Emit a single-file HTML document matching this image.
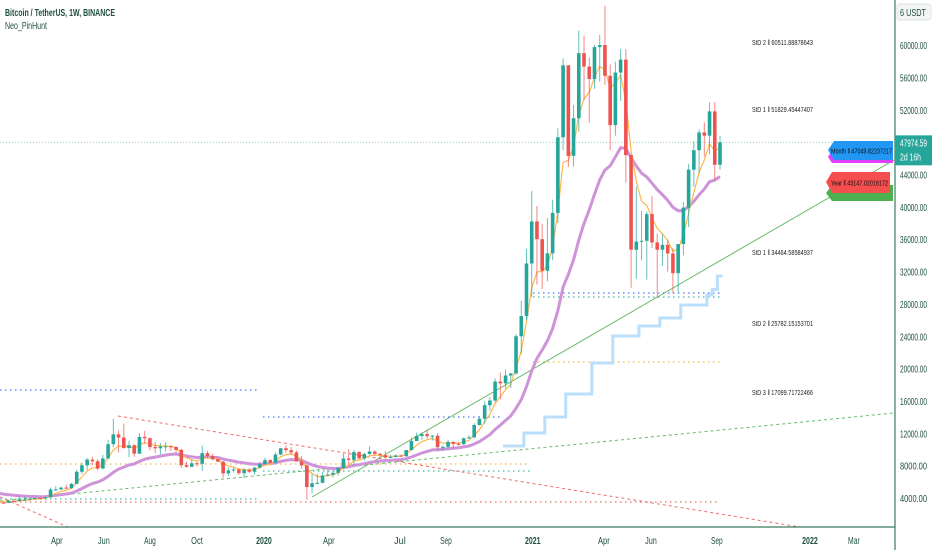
<!DOCTYPE html>
<html><head><meta charset="utf-8">
<style>
html,body{margin:0;padding:0;background:#fff;}
svg{display:block;font-family:"Liberation Sans",sans-serif;}
</style></head>
<body>
<svg id="chart" width="932" height="550" viewBox="0 0 932 550" xmlns="http://www.w3.org/2000/svg">
<rect width="932" height="550" fill="#ffffff"/>
<g id="levels"></g>
<g id="trend"></g>
<g id="steps"></g>
<g id="mas"></g>
<g id="candles"></g>
<g id="yaxis"></g>
<g id="xaxis"></g>
<g id="tags"></g>
<text x="5" y="16" font-size="10" font-weight="bold" fill="#1f4f3f" textLength="110" lengthAdjust="spacingAndGlyphs">Bitcoin / TetherUS, 1W, BINANCE</text>
<text x="5" y="29" font-size="10" fill="#1f4f3f" textLength="42" lengthAdjust="spacingAndGlyphs">Neo_PinHunt</text>
</svg>
<script>
const closes=[3550,3530,3440,3410,3660,3620,3800,3820,3910,4000,3990,4100,5050,5070,5290,5220,5750,7250,8050,8750,8550,7650,8900,10660,11870,11480,10180,10530,9490,11560,11390,10300,10150,10360,10400,10300,9950,8060,7860,8300,8230,9550,9200,8800,8500,7050,7420,7530,7070,7500,7250,7760,
8180,8690,8350,9380,10150,9920,9650,8530,8040,5360,5830,5880,6780,6900,7120,7700,8890,8720,9680,8900,9450,9750,9470,9300,9010,9070,9250,9160,9930,11050,11680,11900,11650,11700,10280,10330,10940,10700,10660,11380,11500,13030,13800,15480,16060,18400,18180,19150,19400,24000,26500,33000,
38200,36000,32100,34250,39250,48600,57500,46300,50950,59000,57350,55800,59750,60000,56200,50100,56600,58200,46400,34700,35700,35800,39100,35600,34700,35300,34240,31800,35400,39900,44600,47000,49200,48800,51800,45200,47974];
const highs=[3700,3650,3630,3560,3700,3720,4190,4200,3970,4050,4100,4150,5300,5470,5400,5650,5850,7500,8350,8950,9100,8800,9350,11200,13800,12350,13200,11100,10650,12000,12300,11500,10950,10800,10900,10500,10400,10100,8500,8800,8500,10500,9800,9500,8900,8600,7800,7800,7700,7650,7700,7850,8450,9000,8800,9600,10200,10500,10300,9900,9200,8100,6950,7000,7200,7500,7450,7800,9500,10050,9950,9800,9600,10400,9900,9600,9800,9350,9450,9400,9950,11450,12100,12100,12500,11800,12050,10500,11200,11000,10950,11500,11750,13250,14100,15950,16450,18800,19500,19900,19450,24300,28400,34800,41950,40100,37850,38600,40900,49700,58350,57500,52600,61800,61150,58450,60000,61250,64850,57600,57950,59500,59500,45800,42500,39500,39400,41300,36700,36600,35950,34900,35400,40600,45300,48150,49550,50450,52900,52950,48800];
const lows=[3450,3450,3400,3350,3380,3600,3600,3720,3690,3800,3900,3950,4050,4900,5000,5100,5150,5700,6950,7450,8050,7450,7550,8850,10300,9650,10100,9050,9100,9450,10700,9900,9550,9400,9750,9800,9620,7700,7750,7850,7900,7350,8900,8650,8450,6500,6750,7150,6880,6450,7100,6900,7650,8140,8250,8300,9300,9600,9370,8500,7640,3800,4600,5700,5850,6700,6550,6800,7600,8120,8100,8800,8650,9350,9250,9050,8850,8950,9050,9050,9150,9900,11050,11200,11350,11100,9900,9900,10200,10150,10500,10550,11300,11400,12950,13200,14800,15850,16200,17550,17600,19250,21800,26000,28850,30400,29850,30800,33400,38000,47000,44900,45000,49300,53200,50400,54600,55500,55100,47000,48800,53100,43000,30000,31100,33400,31000,34900,28800,32700,32000,29300,29400,34000,37500,42500,44100,46200,46500,43300,44600];
const prehistory=[6700,7300,6500,6400,6600,6500,6450,6400,6500,6300,6350,5600,4000,3800,4100,3500,3300,3900,4000,3700];
const firstOpen=3700;
const stepStart=99;
const stepValues=[10430,10430,10430,10430,12040,12040,12040,12040,14020,14020,14020,14020,16860,16860,16860,16860,16860,20700,20700,20700,20700,24030,24030,24030,24030,24030,25270,25270,25270,25270,26260,26260,26260,26260,27870,27870,27870,27870,27870,29100,29800,31450];
const yTicks=[60000,56000,52000,44000,40000,36000,32000,28000,24000,20000,16000,12000,8000,4000];
const xTickLabels=["Apr","Jun","Aug","Oct","2020","Apr","Jul","Sep","2021","Apr","Jun","Sep","2022","Mar"];
const xTickIdx=[13.2,22.2,31.0,40.0,52.8,65.2,78.8,87.6,104.2,117.8,126.8,139.4,157.2,165.6];
const stdLabels=["StD 2 \u2016 60511.88878643","StD 1 \u2016 51829.45447407","StD 1 \u2016 34464.58584937","StD 2 \u2016 25782.15153701","StD 3 \u2016 17099.71722466"];
const stdLabelY=[45,112,255,326,395];
const lastPrice=47974.59;

const NS="http://www.w3.org/2000/svg";
const X=i=>-12.2+i*5.23;
const Y=p=>530.4-p*0.008089;
function mk(tag,attrs,parent){const e=document.createElementNS(NS,tag);for(const k in attrs)e.setAttribute(k,attrs[k]);parent.appendChild(e);return e;}
const G=id=>document.getElementById(id);

// levels
const lv=G('levels');
const levelDefs=[[0,260,390,'#2962ff'],[263,500,417,'#2962ff'],[0,530,464,'#f5a623'],[0,260,499,'#26a69a'],[263,530,471,'#26a69a'],[0,720,502,'#ef5350'],[533,720,293,'#2962ff'],[533,720,297,'#26a69a'],[533,720,362,'#f5a623']];
levelDefs.forEach(d=>{const l=mk('line',{x1:d[0],x2:d[1],y1:d[2],y2:d[2],stroke:d[3],'stroke-width':1.3,'stroke-dasharray':'1.5 3.5',opacity:0.85},lv);

});
const pl=mk('line',{x1:0,x2:895,y1:Y(lastPrice),y2:Y(lastPrice),stroke:'#9fcfc4','stroke-width':1,'stroke-dasharray':'1 2'},lv);



// trend lines
const tr=G('trend');
[[312,497,894,160,'#4caf50','none',1],[0,501,894,413,'#4caf50','3 3',1],[118,416,800,527,'#ef5350','3 3',1],[0,497,70,528,'#ef5350','3 3',1]].forEach(d=>{
const l=mk('line',{x1:d[0],y1:d[1],x2:d[2],y2:d[3],stroke:d[4],'stroke-dasharray':d[5],'stroke-width':d[6],opacity:0.85},tr);

});

// step line
let sp='';
stepValues.forEach((v,k)=>{const i=stepStart+k;const x0=X(i)-2.6,x1=X(i)+2.6;sp+=(k?'L':'M')+x0+' '+Y(v)+' L'+x1+' '+Y(v)+' ';});
const sl=mk('path',{d:sp,fill:'none',stroke:'#bbdefb','stroke-width':3},G('steps'));



// moving averages
const all=prehistory.concat(closes);const off=prehistory.length;
let ema=all[0],ema2=all[0];const kf=2/6,ks=2/21;let ep='',mp='';
all.forEach((c,j)=>{ema=c*kf+ema*(1-kf);ema2=c*ks+ema2*(1-ks);const i=j-off;
 if(i>=0){ep+=(i?'L':'M')+X(i).toFixed(1)+' '+Y(ema).toFixed(1)+' ';
 mp+=(i?'L':'M')+X(i).toFixed(1)+' '+Y(ema2).toFixed(1)+' ';}});
const mpEl=mk('path',{d:mp,fill:'none',stroke:'#ce93d8','stroke-width':3},G('mas'));


const epEl=mk('path',{d:ep,fill:'none',stroke:'#ffb74d','stroke-width':1.2},G('mas'));



// candles
const cg=G('candles');
closes.forEach((c,i)=>{const o=i?closes[i-1]:firstOpen;const up=c>=o;const col=up?'#26a69a':'#ef5350';const x=X(i);
 const g=mk('g',{},cg);
 
 
 mk('line',{x1:x,x2:x,y1:Y(highs[i]),y2:Y(lows[i]),stroke:col,'stroke-width':1,opacity:0.7},g);
 const t=Y(Math.max(o,c)),b=Y(Math.min(o,c));
 mk('rect',{x:x-1.8,y:t,width:3.6,height:Math.max(1,b-t),fill:col},g);});

// y axis
const ya=G('yaxis');
mk('line',{x1:895,x2:895,y1:0,y2:550,stroke:'#3b7a5e','stroke-width':1.2},ya);
yTicks.forEach(v=>{const t=mk('text',{x:900,y:Y(v)+4,'font-size':10,fill:'#1f4f3f',textLength:27,lengthAdjust:'spacingAndGlyphs'},ya);t.textContent=v.toFixed(2);

});
const ub=mk('rect',{x:897,y:4,width:34,height:16,rx:3,fill:'#f2f5f4',stroke:'#dde5e2'},ya);


const ut=mk('text',{x:900,y:16,'font-size':10,fill:'#1f4f3f',textLength:26,lengthAdjust:'spacingAndGlyphs'},ya);ut.textContent='6 USDT';



// x axis
const xa=G('xaxis');
mk('line',{x1:0,x2:895,y1:527,y2:527,stroke:'#3b7a5e','stroke-width':1.2},xa);
xTickLabels.forEach((s,n)=>{const t=mk('text',{x:X(xTickIdx[n]),y:544,'font-size':10,fill:'#1f4f3f','text-anchor':'middle','font-weight':/^\d/.test(s)?'bold':'normal',textLength:s.length*3.9,lengthAdjust:'spacingAndGlyphs'},xa);t.textContent=s;

});

// std labels
stdLabels.forEach((s,n)=>{const t=mk('text',{x:752,y:stdLabelY[n],'font-size':7.5,fill:'#222',textLength:61,lengthAdjust:'spacingAndGlyphs'},G('tags'));t.textContent=s;

});

// price tags
const tg=G('tags');
function tag(pts,fill,name){const p=mk('polygon',{points:pts,fill:fill},tg);

}
tag('832,185 893,185 893,201 832,201 826,193','#4caf50','green-tag');
tag('832,172 890,172 890,193 832,193 826,182','#f44e4e','year-tag');
tag('832,150 893,150 893,163 832,163 828,157','#e040fb','purple-tag');
tag('834,141 893,141 893,160 834,160 828,150','#2196f3','month-tag');
const mt=mk('text',{x:831,y:153.5,'font-size':7.5,fill:'#111',textLength:61,lengthAdjust:'spacingAndGlyphs'},tg);mt.textContent='Month \u2016 47049.82237217';


const yt=mk('text',{x:831,y:185.5,'font-size':7.5,fill:'#111',textLength:57,lengthAdjust:'spacingAndGlyphs'},tg);yt.textContent='Year \u2016 43147.02016172';


const lp=mk('rect',{x:895,y:Y(lastPrice)-7,width:37,height:30,fill:'#26a69a'},tg);


const lt=mk('text',{x:900,y:Y(lastPrice)+4,'font-size':10,fill:'#fff',textLength:27,lengthAdjust:'spacingAndGlyphs'},tg);lt.textContent=lastPrice.toFixed(2);


const ct=mk('text',{x:900,y:Y(lastPrice)+18,'font-size':10,fill:'#fff',textLength:21,lengthAdjust:'spacingAndGlyphs'},tg);ct.textContent='2d 16h';


</script>
</body></html>
